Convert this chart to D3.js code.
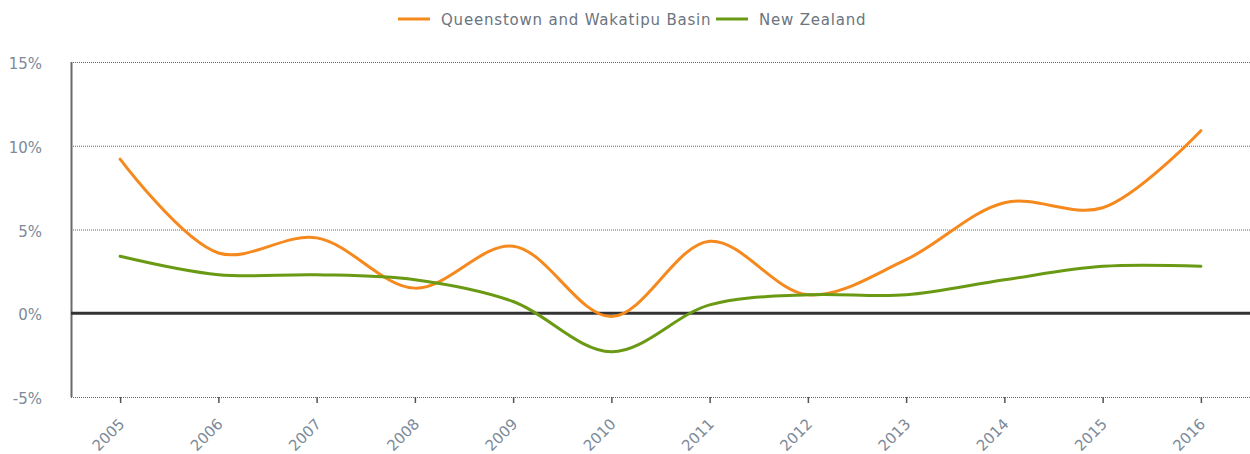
<!DOCTYPE html>
<html>
<head>
<meta charset="utf-8">
<script src="https://cdn.jsdelivr.net/npm/d3@7"></script>
<style>
	body { margin: 0; background: #fff; }
	text { font-family: "DejaVu Sans", Verdana, sans-serif; }
</style>
</head>
<body>
<div id="chart"></div>
<script>
const years = ['2005', '2006', '2007', '2008', '2009', '2010', '2011', '2012', '2013', '2014', '2015', '2016'];
const queenstown = [9.2, 3.6, 4.5, 1.5, 4.0, -0.2, 4.3, 1.1, 3.2, 6.6, 6.3, 10.9];
const newZealand = [3.4, 2.3, 2.3, 2.0, 0.7, -2.3, 0.5, 1.1, 1.1, 2.0, 2.8, 2.8];
const yTicks = [-5, 0, 5, 10, 15];
const seriesNames = ['Queenstown and Wakatipu Basin', 'New Zealand'];
const seriesColors = ['#f5891d', '#6a9a14'];

let full_width = 1250;
let full_height = 454;
let margin = {top: 62, bottom: 57, left: 71, right: 0};
let width = full_width - margin.left - margin.right;
let height = full_height - margin.top - margin.bottom;

const svg = d3.select('#chart')
	.append('svg')
		.attr('width', full_width)
		.attr('height', full_height)
	.append('g')
		.attr('transform', 'translate(' + margin.left + ',' + margin.top + ')');

let x = d3.scalePoint()
	.domain(years)
	.range([0, width])
	.padding(0.5);
let y = d3.scaleLinear()
	.domain([-5, 15])
	.range([height, 0]);

// Dotted grid lines
svg.append('g')
	.selectAll('line')
	.data(yTicks.filter(t => t !== 0))
	.enter()
	.append('line')
		.attr('x1', 0)
		.attr('x2', width)
		.attr('y1', d => y(d) + 0.5)
		.attr('y2', d => y(d) + 0.5)
		.attr('stroke', '#666')
		.attr('stroke-width', 1)
		.attr('stroke-dasharray', '1,1');

// Y axis labels
svg.append('g')
	.selectAll('text')
	.data(yTicks)
	.enter()
	.append('text')
		.attr('x', -29)
		.attr('y', d => y(d) + 7)
		.attr('text-anchor', 'end')
		.attr('fill', '#7c8a99')
		.style('font-size', '15px')
		.text(d => d + '%');

// Y axis line
svg.append('line')
	.attr('x1', 0.5).attr('x2', 0.5)
	.attr('y1', 0).attr('y2', height)
	.attr('stroke', '#6a6a6a')
	.attr('stroke-width', 2);

// X axis ticks and labels
const xAxis = svg.append('g')
	.attr('transform', 'translate(0,' + height + ')')
	.call(d3.axisBottom(x).tickSize(6).tickSizeOuter(0));
xAxis.select('.domain').remove();
xAxis.selectAll('.tick line').attr('stroke', '#555').attr('stroke-width', 1.5);
xAxis.selectAll('.tick text')
	.attr('fill', '#7c8a99')
	.style('font-size', '15px')
	.style('font-family', '"DejaVu Sans", Verdana, sans-serif')
	.attr('text-anchor', 'end')
	.attr('dy', null)
	.attr('y', 0)
	.attr('transform', 'translate(5,28) rotate(-45)');

// Zero line
svg.append('line')
	.attr('x1', 0).attr('x2', width)
	.attr('y1', y(0)).attr('y2', y(0))
	.attr('stroke', '#333')
	.attr('stroke-width', 3);

// Series lines
const line = d3.line()
	.x((d, i) => x(years[i]))
	.y(d => y(d))
	.curve(d3.curveCatmullRom.alpha(0.5));

[queenstown, newZealand].forEach((values, k) => {
	svg.append('path')
		.datum(values)
		.attr('fill', 'none')
		.attr('stroke', seriesColors[k])
		.attr('stroke-width', 3)
		.attr('stroke-linecap', 'round')
		.attr('d', line);
});

// Legend
const legend = d3.select('svg').append('g');
let legendX = [398, 716];
seriesNames.forEach((name, k) => {
	legend.append('line')
		.attr('x1', legendX[k]).attr('x2', legendX[k] + 32)
		.attr('y1', 19).attr('y2', 19)
		.attr('stroke', seriesColors[k])
		.attr('stroke-width', 3);
	legend.append('text')
		.attr('x', legendX[k] + 43)
		.attr('y', 25)
		.attr('fill', '#6b7480')
		.style('font-size', '15px')
		.style('letter-spacing', '0.8px')
		.text(name);
});
</script>
</body>
</html>
